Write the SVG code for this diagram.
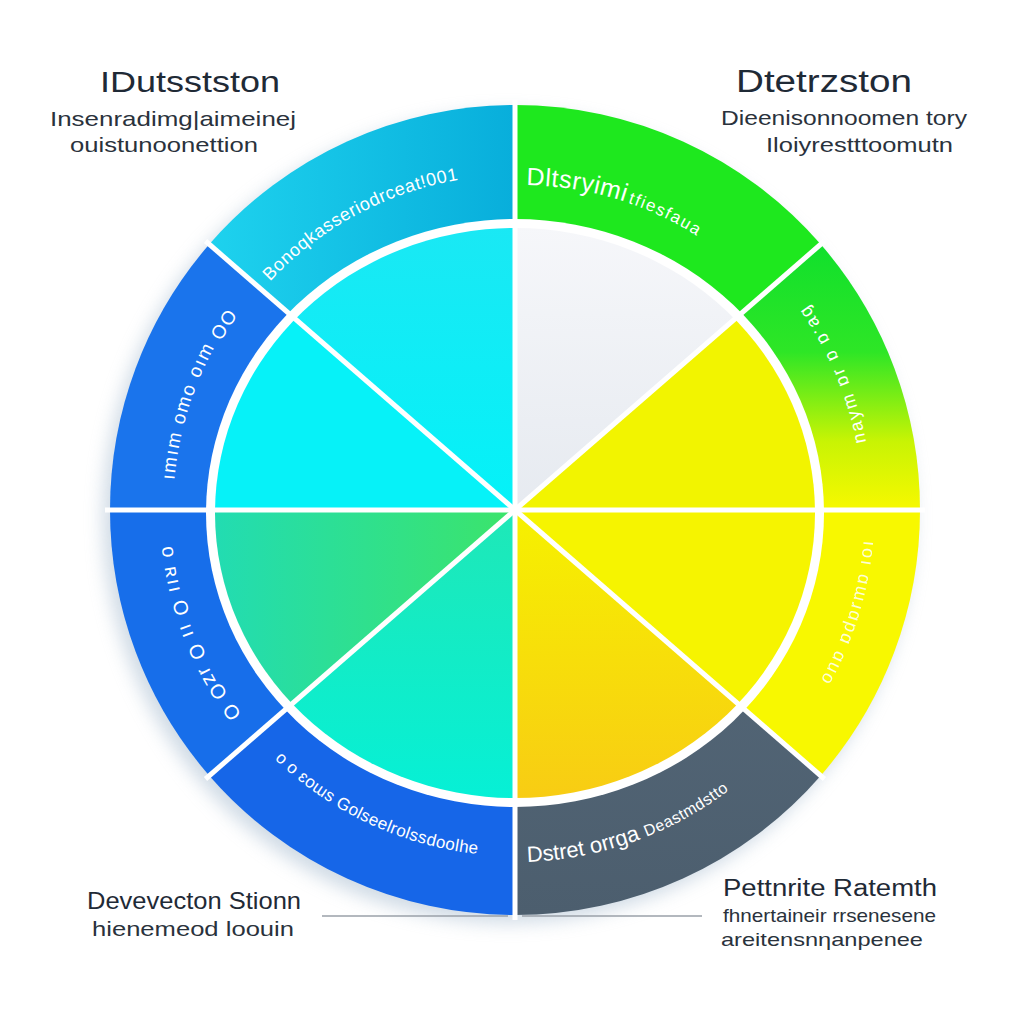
<svg xmlns="http://www.w3.org/2000/svg" width="1024" height="1024" viewBox="0 0 1024 1024">
  <style>
    .head { font-family: "Liberation Sans", Arial, sans-serif; fill: #1f2a36; }
    .sub { font-family: "Liberation Sans", Arial, sans-serif; fill: #2a323c; }
    .arc { font-family: "Liberation Sans", "DejaVu Sans", sans-serif; fill: #ffffff; }
    .sep { stroke: #ffffff; stroke-width: 5; stroke-linecap: butt; }
    .lead { stroke: #9aa0a8; stroke-width: 1.5; }
  </style>
  <defs>
    <filter id="soft" x="-20%" y="-20%" width="140%" height="140%">
      <feGaussianBlur stdDeviation="9"/>
    </filter>
    <clipPath id="innerClip">
      <ellipse cx="515" cy="513" rx="300" ry="285"/>
    </clipPath>
    <linearGradient id="gTopLeft" x1="209" y1="0" x2="515" y2="0" gradientUnits="userSpaceOnUse">
      <stop offset="0" stop-color="#1ed2ee"/>
      <stop offset="1" stop-color="#08aedb"/>
    </linearGradient>
    <linearGradient id="gRightUp" x1="0" y1="250" x2="0" y2="505" gradientUnits="userSpaceOnUse">
      <stop offset="0" stop-color="#12e02c"/>
      <stop offset="0.4" stop-color="#2ee626"/>
      <stop offset="0.75" stop-color="#c8f404"/>
      <stop offset="1" stop-color="#f4f800"/>
    </linearGradient>
    <linearGradient id="gSlate" x1="0" y1="520" x2="0" y2="915" gradientUnits="userSpaceOnUse">
      <stop offset="0" stop-color="#56697a"/>
      <stop offset="1" stop-color="#4c5e6e"/>
    </linearGradient>
    <linearGradient id="gInGray" x1="0" y1="225" x2="0" y2="510" gradientUnits="userSpaceOnUse">
      <stop offset="0" stop-color="#f6f7fa"/>
      <stop offset="1" stop-color="#e6eaf0"/>
    </linearGradient>
    <linearGradient id="gInGreen" x1="215" y1="0" x2="515" y2="0" gradientUnits="userSpaceOnUse">
      <stop offset="0" stop-color="#22dcb2"/>
      <stop offset="1" stop-color="#3ce46a"/>
    </linearGradient>
    <linearGradient id="gInTeal" x1="0" y1="520" x2="0" y2="800" gradientUnits="userSpaceOnUse">
      <stop offset="0" stop-color="#1ee8b8"/>
      <stop offset="1" stop-color="#06f0d6"/>
    </linearGradient>
    <linearGradient id="gInGold" x1="0" y1="520" x2="0" y2="800" gradientUnits="userSpaceOnUse">
      <stop offset="0" stop-color="#f6f000"/>
      <stop offset="1" stop-color="#f8cc14"/>
    </linearGradient>
    <linearGradient id="gInCyan" x1="0" y1="225" x2="0" y2="510" gradientUnits="userSpaceOnUse">
      <stop offset="0" stop-color="#1ae8f4"/>
      <stop offset="1" stop-color="#04f2f8"/>
    </linearGradient>

    <!-- baselines for the curved ring labels -->
    <path id="pTL" d="M270,281.5 A335,335 0 0 1 497.5,175.5"/>
    <path id="pTR" d="M526.3,185.2 A325,325 0 0 1 752,280"/>
    <path id="pLU" d="M226.7,308.1 A352,352 0 0 0 163.9,485.4"/>
    <path id="pLL" d="M161.9,547.1 A355,355 0 0 0 227.8,718.7"/>
    <path id="pBL" d="M274.6,758.9 A346,346 0 0 0 503,855.8"/>
    <path id="pBR" d="M527.3,861.8 A352,352 0 0 0 752,771"/>
    <path id="pRU" d="M800.1,310.4 A348,348 0 0 1 861.1,473.6"/>
    <path id="pRL" d="M863.7,540.5 A350,350 0 0 1 794.5,720.6"/>
  </defs>

  <rect width="1024" height="1024" fill="#ffffff"/>

  <!-- soft shadow under the wheel -->
  <circle cx="508" cy="518" r="405" fill="#a9bdd0" opacity="0.55" filter="url(#soft)"/>

  <!-- leader lines under the bottom captions -->
  <g id="connectors">
    <line class="lead" x1="322" y1="916" x2="508" y2="916"/>
    <line class="lead" x1="522" y1="916" x2="702" y2="916"/>
  </g>

  <!-- outer ring segments -->
  <g id="ring">
    <path id="seg-top-left" d="M515,510 L515,105 A405,405 0 0 0 209.3,244.3 Z" fill="url(#gTopLeft)"/>
    <path id="seg-left-upper" d="M515,510 L209.3,244.3 A405,405 0 0 0 110,510 Z" fill="#1a74ec"/>
    <path id="seg-left-lower" d="M515,510 L110,510 A405,405 0 0 0 209.3,775.7 Z" fill="#176eea"/>
    <path id="seg-bottom-left" d="M515,510 L209.3,775.7 A405,405 0 0 0 515,915 Z" fill="#1666e8"/>
    <path id="seg-bottom-right" d="M515,510 L515,915 A405,405 0 0 0 820.7,775.7 Z" fill="url(#gSlate)"/>
    <path id="seg-right-lower" d="M515,510 L820.7,775.7 A405,405 0 0 0 920,510 Z" fill="#f8f800"/>
    <path id="seg-right-upper" d="M515,510 L920,510 A405,405 0 0 0 820.7,244.3 Z" fill="url(#gRightUp)"/>
    <path id="seg-top-right" d="M515,510 L820.7,244.3 A405,405 0 0 0 515,105 Z" fill="#1ee81e"/>
  </g>

  <!-- white gap between ring and core -->
  <ellipse cx="515" cy="513" rx="309" ry="294" fill="#ffffff"/>

  <!-- inner pie slices -->
  <g id="core" clip-path="url(#innerClip)">
    <path id="core-top-left" d="M515,510 L515,105 A405,405 0 0 0 209.3,244.3 Z" fill="url(#gInCyan)"/>
    <path id="core-left-upper" d="M515,510 L209.3,244.3 A405,405 0 0 0 110,510 Z" fill="#06f2f8"/>
    <path id="core-left-lower" d="M515,510 L110,510 A405,405 0 0 0 209.3,775.7 Z" fill="url(#gInGreen)"/>
    <path id="core-bottom-left" d="M515,510 L209.3,775.7 A405,405 0 0 0 515,915 Z" fill="url(#gInTeal)"/>
    <path id="core-bottom-right" d="M515,510 L515,915 A405,405 0 0 0 820.7,775.7 Z" fill="url(#gInGold)"/>
    <path id="core-right-lower" d="M515,510 L820.7,775.7 A405,405 0 0 0 920,510 Z" fill="#f6f400"/>
    <path id="core-right-upper" d="M515,510 L920,510 A405,405 0 0 0 820.7,244.3 Z" fill="#f2f400"/>
    <path id="core-top-right" d="M515,510 L820.7,244.3 A405,405 0 0 0 515,105 Z" fill="url(#gInGray)"/>
  </g>

  <!-- white dividers -->
  <g id="dividers">
    <line class="sep" x1="515" y1="510" x2="515" y2="100"/>
    <line class="sep" x1="515" y1="510" x2="205.5" y2="241"/>
    <line class="sep" x1="515" y1="510" x2="105" y2="510"/>
    <line class="sep" x1="515" y1="510" x2="205.5" y2="779"/>
    <line class="sep" x1="515" y1="510" x2="515" y2="920"/>
    <line class="sep" x1="515" y1="510" x2="824.5" y2="779"/>
    <line class="sep" x1="515" y1="510" x2="925" y2="510"/>
    <line class="sep" x1="515" y1="510" x2="824.5" y2="241"/>
  </g>

  <!-- curved labels in the ring -->
  <g id="ring-labels">
    <text class="arc" font-size="18" letter-spacing="0.6"><textPath href="#pTL">Bonoqkasseriodrceat!001</textPath></text>
    <text class="arc" font-size="25" letter-spacing="0.5"><textPath href="#pTR">Dltsryimi<tspan font-size="17" letter-spacing="1.5" dx="3">tfiesfaua</tspan></textPath></text>
    <text class="arc" font-size="19" letter-spacing="2"><textPath href="#pLU">OO ɯıo oɯo ɯıɯı</textPath></text>
    <text class="arc" font-size="20" letter-spacing="2"><textPath href="#pLL">o ʀıı O ıı O ɹzO O</textPath></text>
    <text class="arc" font-size="17" letter-spacing="0.4"><textPath href="#pBL">o o ɛoɯs Golseelrolssdoolhe</textPath></text>
    <text class="arc" font-size="22"><textPath href="#pBR">Dstret orrga <tspan font-size="16" letter-spacing="0.5">Deastmdstto</tspan></textPath></text>
    <text class="arc" font-size="18" letter-spacing="2"><textPath href="#pRU">ɓɐ.ɑ ɑ ɹɑ ɯʎɐu</textPath></text>
    <text class="arc" font-size="18" letter-spacing="2" fill="#fdfbc4" opacity="0.85"><textPath href="#pRL">ıoı ɑɯɹɑpɑ ɑuo</textPath></text>
  </g>

  <!-- captions -->
  <g id="caption-top-left">
    <text class="head" x="100" y="92" font-size="30" textLength="180" lengthAdjust="spacingAndGlyphs">IDutsstston</text>
    <text class="sub" x="50" y="126" font-size="21" textLength="246" lengthAdjust="spacingAndGlyphs">Insenradimg|aimeinej</text>
    <text class="sub" x="70" y="152" font-size="21" textLength="188" lengthAdjust="spacingAndGlyphs">ouistunoonettion</text>
  </g>
  <g id="caption-top-right">
    <text class="head" x="736" y="92" font-size="31" textLength="176" lengthAdjust="spacingAndGlyphs">Dtetrzston</text>
    <text class="sub" x="721" y="125" font-size="21" textLength="246" lengthAdjust="spacingAndGlyphs">Dieenisonnoomen tory</text>
    <text class="sub" x="766" y="152" font-size="21" textLength="187" lengthAdjust="spacingAndGlyphs">Iloiyrestttoomutn</text>
  </g>
  <g id="caption-bottom-left">
    <text class="head" x="87" y="909" font-size="24" textLength="214" lengthAdjust="spacingAndGlyphs">Devevecton Stionn</text>
    <text class="sub" x="92" y="936" font-size="21" textLength="202" lengthAdjust="spacingAndGlyphs">hienemeod loouin</text>
  </g>
  <g id="caption-bottom-right">
    <text class="head" x="723" y="896" font-size="23" textLength="214" lengthAdjust="spacingAndGlyphs">Pettnrite Ratemth</text>
    <text class="sub" x="723" y="922" font-size="19" textLength="213" lengthAdjust="spacingAndGlyphs">fhnertaineir rrsenesene</text>
    <text class="sub" x="721" y="946" font-size="19" textLength="202" lengthAdjust="spacingAndGlyphs">areitensnηanpenee</text>
  </g>
</svg>
